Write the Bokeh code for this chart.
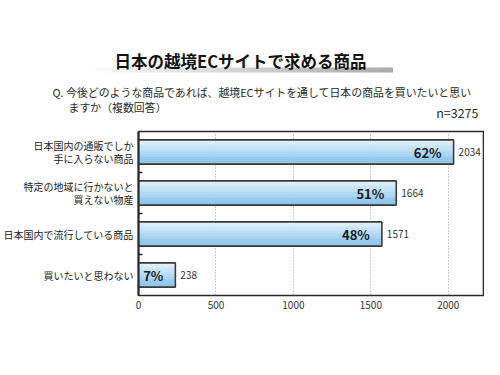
from bokeh.plotting import figure
from bokeh.layouts import column
from bokeh.models import Range1d, FixedTicker, ColumnDataSource
from bokeh.core.properties import value
from bokeh.embed import file_html
from bokeh.resources import INLINE

# ---------------- data ----------------
categories = ["日本国内の通販でしか\n手に入らない商品",
              "特定の地域に行かないと\n買えない物産",
              "日本国内で流行している商品",
              "買いたいと思わない"]
counts = [2034, 1664, 1571, 238]
percents = ["62%", "51%", "48%", "7%"]
x_ticks = [0, 500, 1000, 1500, 2000]

title_text = "日本の越境ECサイトで求める商品"
question_lines = ["Q. 今後どのような商品であれば、越境ECサイトを通して日本の商品を買いたいと思い",
                  "ますか（複数回答）"]
n_text = "n=3275"

JP = "Noto Sans CJK JP"
W = 484
HEAD_H = 123

# ---------------- header ----------------
h = figure(width=W, height=HEAD_H, x_range=Range1d(0, W), y_range=Range1d(HEAD_H, 0),
           output_backend="svg", toolbar_location=None, min_border=0)
h.frame_align = False
h.axis.visible = False
h.grid.visible = False
h.outline_line_color = None

# gradient underline under the title
nseg = 40
x0, x1 = 89, 392
seg_w = (x1 - x0) / nseg
segs = dict(left=[], right=[], color=[])
for i in range(nseg):
    t = (i + 1) / nseg
    g = int(255 - (255 - 170) * t)
    segs["left"].append(x0 + i * seg_w)
    segs["right"].append(x0 + (i + 1) * seg_w + 0.5)
    segs["color"].append("#%02x%02x%02x" % (g, g, g))
h.quad(left="left", right="right", top=67, bottom=72, color="color",
       source=ColumnDataSource(segs), line_color=None)

h.text(x=[240], y=[60], text=[title_text], text_align="center", text_baseline="middle",
       text_font=value(JP), text_font_style="bold", text_font_size="16.5px", text_color="#111111")
h.text(x=[52, 68], y=[91, 106], text=question_lines, text_align="left", text_baseline="middle",
       text_font=value(JP), text_font_size="10.9px", text_color="#2a2a2a")
h.text(x=[478], y=[112], text=[n_text], text_align="right", text_baseline="middle",
       text_font=value(JP), text_font_size="12.5px", text_color="#2a2a2a")

# ---------------- main chart ----------------
ncat = len(categories)
p = figure(width=W, height=244, x_range=Range1d(0, 2227), y_range=Range1d(ncat, 0),
           output_backend="svg", toolbar_location=None,
           min_border_left=130, min_border_right=1, min_border_top=8, min_border_bottom=72)
p.frame_align = False

yc = [i + 0.5 for i in range(ncat)]
bar_h = 0.59

# gradient fill, built from horizontal slices of each bar
N = 14
top_c = (0xe2, 0xf2, 0xfc)
bot_c = (0x82, 0xc0, 0xeb)
sl = dict(y=[], right=[], color=[])
for c, v in zip(yc, counts):
    for k in range(N):
        t = k / (N - 1)
        col = tuple(int(top_c[j] + (bot_c[j] - top_c[j]) * t) for j in range(3))
        sl["y"].append(c - bar_h / 2 + (k + 0.5) * bar_h / N)
        sl["right"].append(v)
        sl["color"].append("#%02x%02x%02x" % col)
p.hbar(y="y", left=0, right="right", height=bar_h / N * 1.15, color="color",
       line_color=None, source=ColumnDataSource(sl))

src = ColumnDataSource(dict(y=yc, right=counts, pct=percents,
                            cnt=[str(v) for v in counts]))
p.hbar(y="y", left=0, right="right", height=bar_h, fill_color=None,
       line_color="#3a3a3a", line_width=1.6, source=src)

p.text(x="right", y="y", text="pct", x_offset=-12, text_align="right", text_baseline="middle",
       text_font=value(JP), text_font_style="bold", text_font_size="13px",
       text_color="#1a1a1a", source=src)
p.text(x="right", y="y", text="cnt", x_offset=5, text_align="left", text_baseline="middle",
       text_font=value(JP), text_font_size="10px", text_color="#333333", source=src)

# axes
p.xaxis.ticker = FixedTicker(ticks=x_ticks)
p.xaxis.major_tick_in = 0
p.xaxis.major_tick_out = 0
p.xaxis.minor_tick_line_color = None
p.xaxis.axis_line_color = None
p.xaxis.major_label_standoff = 5
p.xaxis.major_label_text_font = JP
p.xaxis.major_label_text_font_size = "10px"
p.xaxis.major_label_text_color = "#333333"

p.yaxis.ticker = FixedTicker(ticks=yc, minor_ticks=[1, 2, 3])
p.yaxis.major_label_overrides = {y: lab for y, lab in zip(yc, categories)}
p.yaxis.major_tick_in = 0
p.yaxis.major_tick_out = 0
p.yaxis.minor_tick_in = 4
p.yaxis.minor_tick_out = 0
p.yaxis.minor_tick_line_color = "#222222"
p.yaxis.minor_tick_line_width = 1.5
p.yaxis.axis_line_color = "#2a2a2a"
p.yaxis.axis_line_width = 2
p.yaxis.major_label_standoff = 5
p.yaxis.major_label_text_font = JP
p.yaxis.major_label_text_font_size = "10px"
p.yaxis.major_label_text_line_height = 0.9
p.yaxis.major_label_text_color = "#222222"

p.xgrid.grid_line_color = "#9a9a9a"
p.xgrid.grid_line_dash = "1 2"
p.xgrid.grid_line_width = 1
p.ygrid.grid_line_color = None
p.outline_line_color = "#2a2a2a"
p.outline_line_width = 1.6

layout = column(h, p, spacing=0)
open("out.html", "w").write(file_html(layout, INLINE))
